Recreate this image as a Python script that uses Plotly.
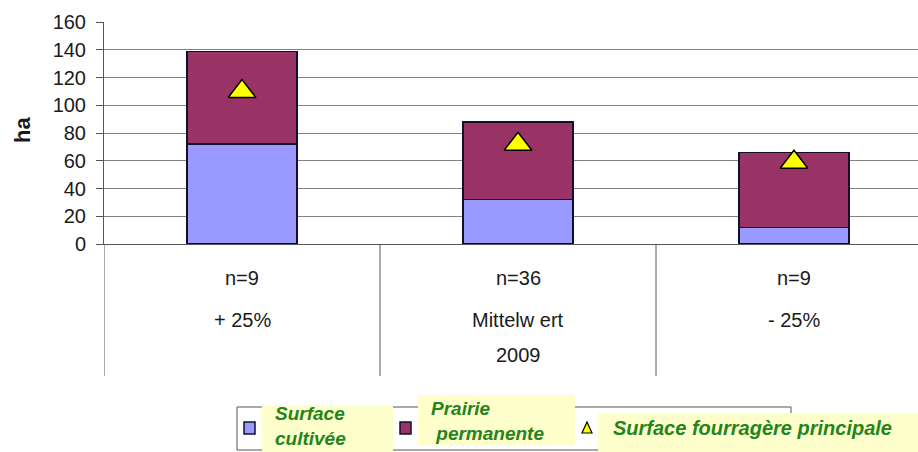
import plotly.graph_objects as go

# --- données ---
groupes = ["+ 25%", "Mittelwert 2009", "- 25%"]
effectifs = ["n=9", "n=36", "n=9"]
libelles_1 = ["+ 25%", "Mittelw ert", "- 25%"]
libelles_2 = ["", "2009", ""]
surface_cultivee = [72, 32, 12]
prairie_permanente = [67, 56, 54]
sfp = [110, 72, 59]

COULEURS = {
    "cultivee": "#9999FF",
    "prairie": "#993366",
    "sfp": "#FFFF00",
    "contour": "#10102e",
    "grille": "#808080",
    "axe": "#555555",
    "texte": "#1a1a1a",
    "legende": "#23851b",
    "fond_leg": "#FFFFCC",
}
POLICE = "Liberation Sans, Arial, sans-serif"

W, H = 918, 452
X0, Y0 = 104, 244          # coin bas-gauche de la zone de tracé (px)
PW, PH = W - X0, Y0 - 22   # largeur / hauteur de la zone de tracé
CAT_PX = 276               # largeur d'une catégorie en px


def px(x):
    return (x - X0) / PW


def py(y):
    return (Y0 - y) / PH


xs = list(range(len(groupes)))

fig = go.Figure()
fig.add_trace(
    go.Bar(
        x=xs,
        y=surface_cultivee,
        name="Surface cultivée",
        width=0.4,
        marker=dict(color=COULEURS["cultivee"], line=dict(color=COULEURS["contour"], width=1.5)),
    )
)
fig.add_trace(
    go.Bar(
        x=xs,
        y=prairie_permanente,
        name="Prairie permanente",
        width=0.4,
        marker=dict(color=COULEURS["prairie"], line=dict(color=COULEURS["contour"], width=1.5)),
    )
)
fig.add_trace(
    go.Scatter(
        x=xs,
        y=sfp,
        mode="markers",
        name="Surface fourragère principale",
        marker=dict(
            symbol="triangle-up",
            size=24,
            color=COULEURS["sfp"],
            line=dict(color="#000000", width=1.5),
        ),
    )
)

# --- étiquettes de catégories sous l'axe ---
cat_font = dict(size=20, color=COULEURS["texte"])
annots = []
for i in xs:
    annots.append(dict(x=i, y=py(278), xref="x", yref="paper", text=effectifs[i],
                       yanchor="middle", showarrow=False, font=cat_font))
    annots.append(dict(x=i, y=py(320), xref="x", yref="paper", text=libelles_1[i],
                       yanchor="middle", showarrow=False, font=cat_font))
    if libelles_2[i]:
        annots.append(dict(x=i, y=py(355), xref="x", yref="paper", text=libelles_2[i],
                           yanchor="middle", showarrow=False, font=cat_font))

# titre de l'axe y
annots.append(dict(x=px(22), y=py(130), xref="paper", yref="paper", text="<b>ha</b>",
                   xanchor="center", yanchor="middle", textangle=-90, showarrow=False,
                   font=dict(size=22, color=COULEURS["texte"])))

# séparateurs verticaux des catégories
shapes = []
for xb in [-0.5, 0.5, 1.5]:
    shapes.append(dict(type="line", xref="x", yref="paper", x0=xb, x1=xb, y0=0, y1=py(376),
                       line=dict(color=COULEURS["axe"], width=1)))

# --- légende dessinée à la main (cadre + fonds jaunes) ---
shapes.append(dict(type="rect", xref="paper", yref="paper", x0=px(237), x1=px(791),
                   y0=py(450), y1=py(407), fillcolor="white",
                   line=dict(color=COULEURS["axe"], width=1), layer="above"))
for (a, b, c, d) in [(262, 393, 405, 452), (418, 575, 395, 445), (598, 918, 413, 452)]:
    shapes.append(dict(type="rect", xref="paper", yref="paper", x0=px(a), x1=px(b),
                       y0=py(d), y1=py(c), fillcolor=COULEURS["fond_leg"],
                       line=dict(width=0), layer="above"))
for (a, col) in [(244, COULEURS["cultivee"]), (400, COULEURS["prairie"])]:
    shapes.append(dict(type="rect", xref="paper", yref="paper", x0=px(a), x1=px(a + 11),
                       y0=py(434), y1=py(422), fillcolor=col,
                       line=dict(color=COULEURS["contour"], width=1.5), layer="above"))
tx, ty = 587, 428
shapes.append(dict(type="path", xref="paper", yref="paper",
                   path=f"M {px(tx - 5)} {py(ty + 5)} L {px(tx + 5)} {py(ty + 5)} L {px(tx)} {py(ty - 6)} Z",
                   fillcolor=COULEURS["sfp"], line=dict(color="#000000", width=1.2), layer="above"))

leg_font = dict(size=19, color=COULEURS["legende"], family=POLICE, weight="bold", style="italic")
for (x, y, t) in [(273, 426, "Surface<br>cultivée"),
                  (429, 421, "Prairie<br>&nbsp;permanente")]:
    annots.append(dict(x=px(x), y=py(y), xref="paper", yref="paper", text=t, xanchor="left",
                       yanchor="middle", align="left", showarrow=False, font=leg_font))
annots.append(dict(x=px(611), y=py(428), xref="paper", yref="paper",
                   text="Surface fourragère principale", xanchor="left", yanchor="middle",
                   showarrow=False, font=dict(leg_font, size=20)))

fig.update_layout(
    barmode="stack",
    width=W,
    height=H,
    margin=dict(l=X0, r=0, t=22, b=H - Y0),
    paper_bgcolor="white",
    plot_bgcolor="white",
    showlegend=False,
    font=dict(family=POLICE, color=COULEURS["texte"]),
    annotations=annots,
    shapes=shapes,
)
fig.update_xaxes(
    range=[-0.5, -0.5 + PW / CAT_PX],
    showticklabels=False,
    showgrid=False,
    zeroline=False,
    showline=True,
    linecolor=COULEURS["axe"],
    linewidth=1,
    ticks="",
)
fig.update_yaxes(
    range=[0, 160.2],
    tick0=0,
    dtick=20,
    showgrid=True,
    gridcolor=COULEURS["grille"],
    gridwidth=1,
    zeroline=False,
    showline=True,
    linecolor=COULEURS["axe"],
    linewidth=1,
    ticks="outside",
    ticklen=7,
    tickcolor=COULEURS["axe"],
    ticklabelstandoff=6,
    tickfont=dict(size=20, color=COULEURS["texte"]),
)

# la page html a une marge de 8 px par défaut : on la supprime
fig.write_html(
    "out.html",
    config={"displayModeBar": False},
    post_script="document.body.style.margin='0';document.body.style.overflow='hidden';",
)
